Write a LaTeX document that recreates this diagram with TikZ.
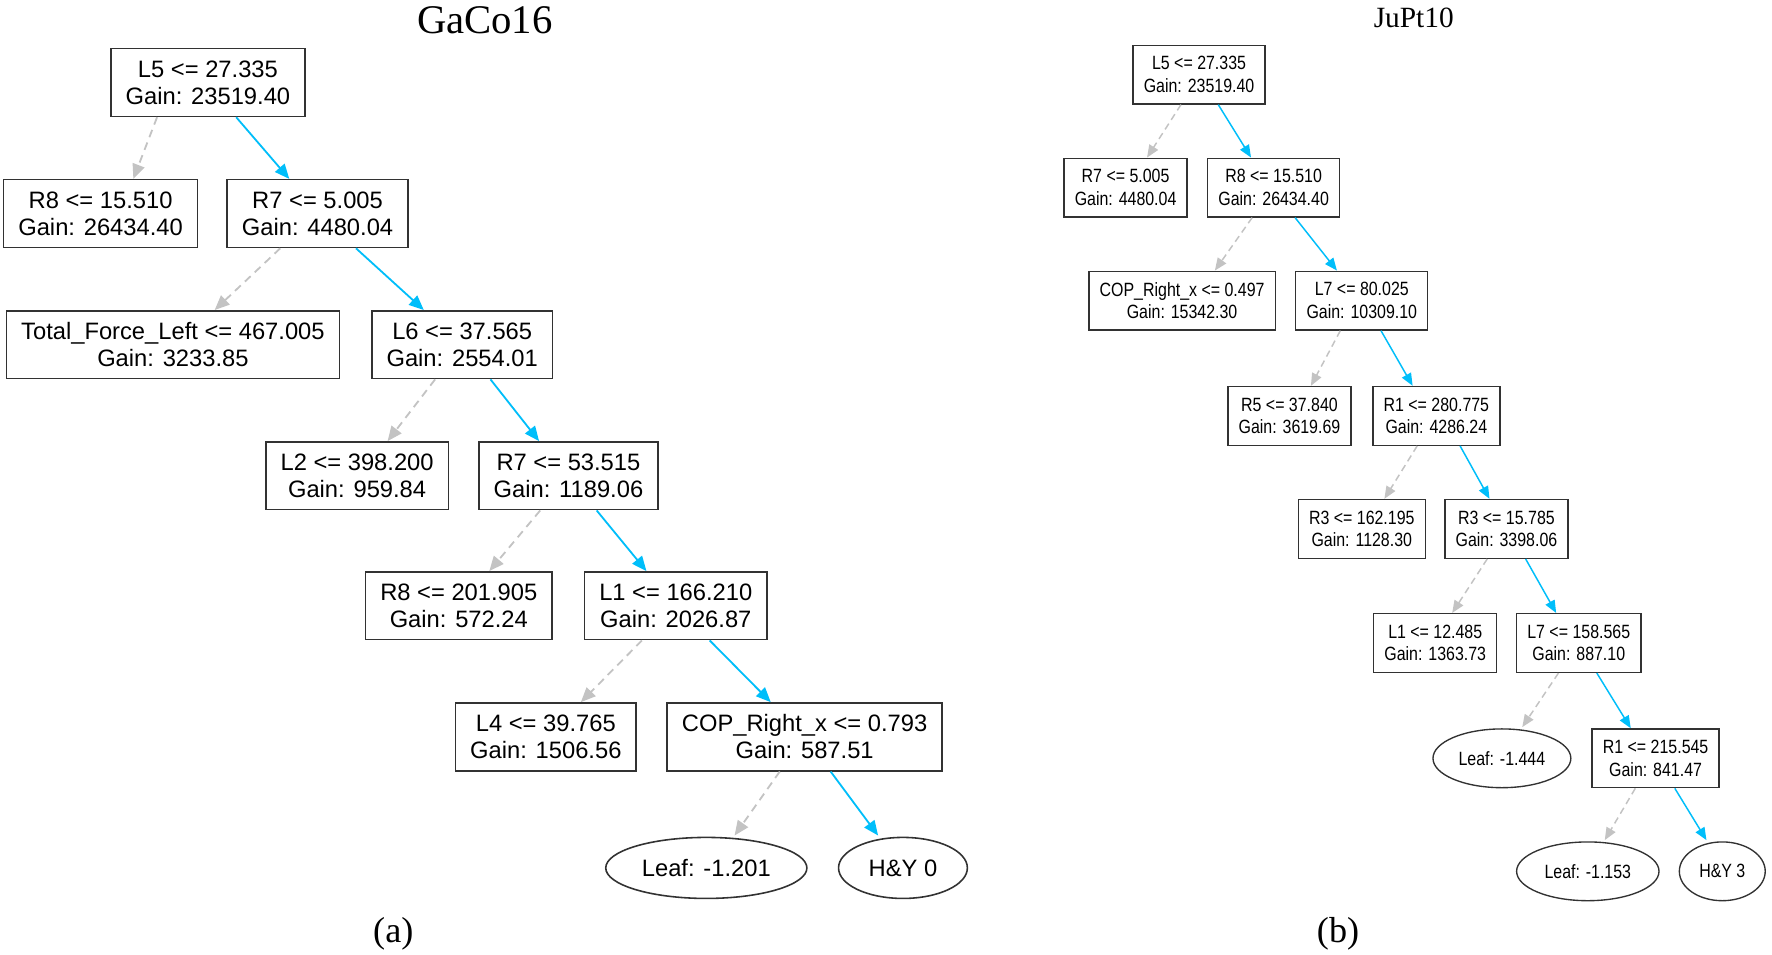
\documentclass[tikz,border=0pt]{standalone}
\usepackage{fontspec}
\setmainfont{Liberation Serif}
\newfontfamily\lsans{Liberation Sans}
\newfontfamily\lnarrow[FakeStretch=0.83]{Liberation Sans}
\usetikzlibrary{arrows.meta,shapes.geometric,calc}
\definecolor{yesblue}{RGB}{0,190,250}
\definecolor{nogray}{RGB}{195,195,195}
\definecolor{boxline}{RGB}{50,50,50}
\begin{document}
\begin{tikzpicture}[x=1pt,y=-1pt,
 lbox/.style={draw=boxline,line width=1.4pt,rectangle,align=center,font=\lsans\fontsize{21}{24}\selectfont,inner xsep=13pt,inner ysep=0pt,minimum height=60pt},
 lell/.style={draw=boxline,line width=1.4pt,ellipse,font=\lsans\fontsize{21}{24}\selectfont,inner sep=0pt,minimum height=54pt},
 rbox/.style={draw=boxline,line width=1.2pt,rectangle,align=center,font=\lnarrow\fontsize{17}{20}\selectfont,inner xsep=9.5pt,inner ysep=0pt,minimum height=52pt},
 rell/.style={draw=boxline,line width=1.2pt,ellipse,font=\lnarrow\fontsize{17}{20}\selectfont,inner sep=0pt,minimum height=52pt},
 lyes/.style={draw=yesblue,line width=1.6pt,-{Triangle[length=13pt,width=11pt]}},
 lno/.style={draw=nogray,line width=1.6pt,dash pattern=on 7pt off 5pt,-{Triangle[length=13pt,width=11pt]}},
 ryes/.style={draw=yesblue,line width=1.3pt,-{Triangle[length=11pt,width=9pt]}},
 rno/.style={draw=nogray,line width=1.3pt,dash pattern=on 6pt off 4pt,-{Triangle[length=11pt,width=9pt]}},
 ttl/.style={font=\rmfamily}
]
\useasboundingbox (0,0) rectangle (1568,845);
\fill[white] (0,0) rectangle (1568,845);

% ---------- titles ----------
\node[ttl,font=\rmfamily\fontsize{36}{40}\selectfont] (tA) at (429,18) {GaCo16};
\node[ttl,font=\rmfamily\fontsize{26}{30}\selectfont] (tB) at (1251,16) {JuPt10};
\node[ttl,font=\rmfamily\fontsize{32}{36}\selectfont] (capA) at (348,826) {(a)};
\node[ttl,font=\rmfamily\fontsize{32}{36}\selectfont] (capB) at (1184,826) {(b)};

% ---------- left tree ----------
\node[lbox] (a1) at (184,73) {L5 <= 27.335\\Gain: 23519.40};
\node[lbox] (a2) at (89,189) {R8 <= 15.510\\Gain: 26434.40};
\node[lbox] (a3) at (281,189) {R7 <= 5.005\\Gain: 4480.04};
\node[lbox] (a4) at (153,305) {Total\_Force\_Left <= 467.005\\Gain: 3233.85};
\node[lbox] (a5) at (409,305) {L6 <= 37.565\\Gain: 2554.01};
\node[lbox] (a6) at (316,421) {L2 <= 398.200\\Gain: 959.84};
\node[lbox] (a7) at (503,421) {R7 <= 53.515\\Gain: 1189.06};
\node[lbox] (a8) at (406,536) {R8 <= 201.905\\Gain: 572.24};
\node[lbox] (a9) at (598,536) {L1 <= 166.210\\Gain: 2026.87};
\node[lbox] (a10) at (483,652) {L4 <= 39.765\\Gain: 1506.56};
\node[lbox] (a11) at (712,652) {COP\_Right\_x <= 0.793\\Gain: 587.51};
\node[lell,minimum width=178pt] (a12) at (625,768) {Leaf: -1.201};
\node[lell,minimum width=114pt] (a13) at (799,768) {H\&Y 0};

\draw[lno]  ([xshift=-45pt]a1.south) -- ([xshift=29pt]a2.north);
\draw[lyes] ([xshift=25pt]a1.south) -- ([xshift=-25pt]a3.north);
\draw[lno]  ([xshift=-33pt]a3.south) -- ([xshift=37pt]a4.north);
\draw[lyes] ([xshift=34pt]a3.south) -- ([xshift=-34pt]a5.north);
\draw[lno]  ([xshift=-24pt]a5.south) -- ([xshift=27pt]a6.north);
\draw[lyes] ([xshift=25pt]a5.south) -- ([xshift=-26pt]a7.north);
\draw[lno]  ([xshift=-25pt]a7.south) -- ([xshift=27pt]a8.north);
\draw[lyes] ([xshift=25pt]a7.south) -- ([xshift=-26pt]a9.north);
\draw[lno]  ([xshift=-30pt]a9.south) -- ([xshift=31pt]a10.north);
\draw[lyes] ([xshift=30pt]a9.south) -- ([xshift=-30pt]a11.north);
\draw[lno]  ([xshift=-22pt]a11.south) -- ([xshift=25pt,yshift=1pt]a12.north);
\draw[lyes] ([xshift=23pt]a11.south) -- ([xshift=-22pt,yshift=1pt]a13.north);

% ---------- right tree ----------
\node[rbox] (b1) at (1061,66) {L5 <= 27.335\\Gain: 23519.40};
\node[rbox] (b2) at (996,166) {R7 <= 5.005\\Gain: 4480.04};
\node[rbox] (b3) at (1127,166) {R8 <= 15.510\\Gain: 26434.40};
\node[rbox] (b4) at (1046,266) {COP\_Right\_x <= 0.497\\Gain: 15342.30};
\node[rbox] (b5) at (1205,266) {L7 <= 80.025\\Gain: 10309.10};
\node[rbox] (b6) at (1141,368) {R5 <= 37.840\\Gain: 3619.69};
\node[rbox] (b7) at (1271,368) {R1 <= 280.775\\Gain: 4286.24};
\node[rbox] (b8) at (1205,468) {R3 <= 162.195\\Gain: 1128.30};
\node[rbox] (b9) at (1333,468) {R3 <= 15.785\\Gain: 3398.06};
\node[rbox] (b10) at (1270,569) {L1 <= 12.485\\Gain: 1363.73};
\node[rbox] (b11) at (1397,569) {L7 <= 158.565\\Gain: 887.10};
\node[rell,minimum width=122pt] (b12) at (1329,671) {Leaf: -1.444};
\node[rbox] (b13) at (1465,671) {R1 <= 215.545\\Gain: 841.47};
\node[rell,minimum width=126pt] (b14) at (1405,771) {Leaf: -1.153};
\node[rell,minimum width=76pt] (b15) at (1524,771) {H\&Y 3};

\draw[rno]  ([xshift=-16pt]b1.south) -- ([xshift=19pt]b2.north);
\draw[ryes] ([xshift=17pt]b1.south) -- ([xshift=-20pt]b3.north);
\draw[rno]  ([xshift=-19pt]b3.south) -- ([xshift=29pt]b4.north);
\draw[ryes] ([xshift=19pt]b3.south) -- ([xshift=-22pt]b5.north);
\draw[rno]  ([xshift=-19pt]b5.south) -- ([xshift=19pt]b6.north);
\draw[ryes] ([xshift=17pt]b5.south) -- ([xshift=-21pt]b7.north);
\draw[rno]  ([xshift=-17pt]b7.south) -- ([xshift=20pt]b8.north);
\draw[ryes] ([xshift=21pt]b7.south) -- ([xshift=-15pt]b9.north);
\draw[rno]  ([xshift=-17pt]b9.south) -- ([xshift=15pt]b10.north);
\draw[ryes] ([xshift=17pt]b9.south) -- ([xshift=-20pt]b11.north);
\draw[rno]  ([xshift=-18pt]b11.south) -- ([xshift=18pt,yshift=1pt]b12.north);
\draw[ryes] ([xshift=16pt]b11.south) -- ([xshift=-22pt]b13.north);
\draw[rno]  ([xshift=-18pt]b13.south) -- ([xshift=15pt,yshift=1pt]b14.north);
\draw[ryes] ([xshift=17pt]b13.south) -- ([xshift=-14pt,yshift=1pt]b15.north);
\end{tikzpicture}
\end{document}
